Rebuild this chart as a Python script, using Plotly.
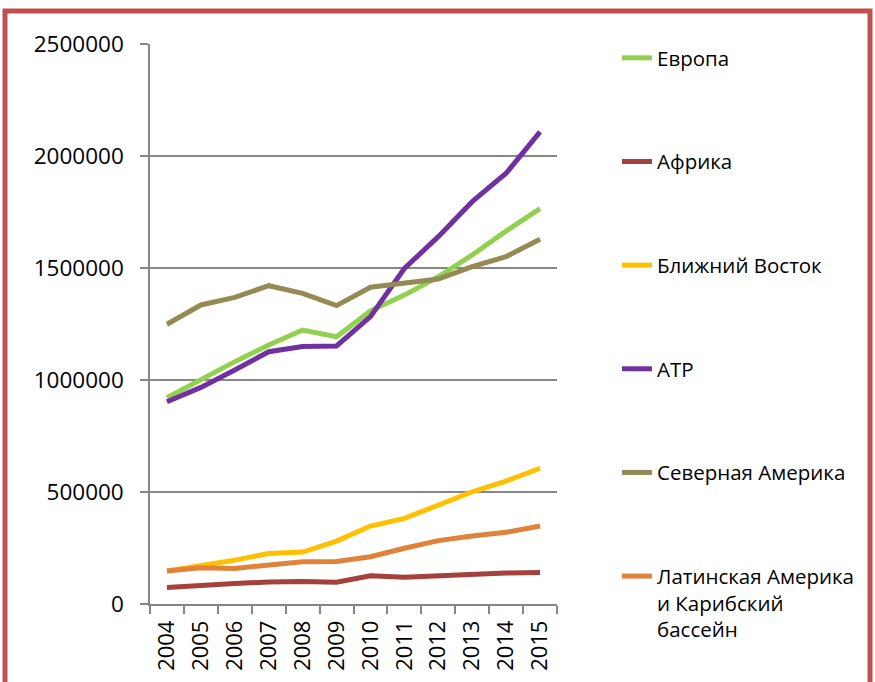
import plotly.graph_objects as go

years = ["2004", "2005", "2006", "2007", "2008", "2009", "2010", "2011", "2012", "2013", "2014", "2015"]

europe = [921000, 1003000, 1082000, 1156000, 1223000, 1193000, 1309000, 1379000, 1461000, 1558000, 1665000, 1765000]
africa = [74000, 85000, 92000, 98000, 101000, 97000, 126000, 119000, 126000, 134000, 138000, 141000]
middle_east = [147000, 171000, 196000, 225000, 232000, 281000, 348000, 382000, 442000, 501000, 549000, 606000]
apac = [903000, 967000, 1045000, 1126000, 1149000, 1152000, 1283000, 1498000, 1640000, 1796000, 1923000, 2108000]
north_america = [1249000, 1335000, 1369000, 1421000, 1387000, 1332000, 1414000, 1434000, 1451000, 1506000, 1551000, 1628000]
latin_america = [147000, 162000, 159000, 174000, 189000, 190000, 211000, 249000, 283000, 304000, 320000, 348000]

series = [
    ("Европа", europe, "#92D050"),
    ("Африка", africa, "#A5403C"),
    ("Ближний Восток", middle_east, "#FFC000"),
    ("АТР", apac, "#7030A0"),
    ("Северная Америка", north_america, "#948A54"),
    ("Латинская Америка<br>и Карибский<br>бассейн", latin_america, "#E0823A"),
]

y_ticks = [0, 500000, 1000000, 1500000, 2000000, 2500000]

fig = go.Figure()
for i, (name, vals, color) in enumerate(series):
    fig.add_trace(go.Scatter(
        x=years, y=vals, name=name, mode="lines",
        line=dict(color=color, width=5),
        legendgroup=f"g{i}",
    ))

W, H = 875, 682
L, R, T, B = 150, 318, 44, 78
pw, ph = W - L - R, H - T - B

def px_x(px):
    return (px - L) / pw

def px_y(py):
    return (H - B - py) / ph

fig.update_layout(
    width=W, height=H,
    margin=dict(l=L, r=R, t=T, b=B, autoexpand=False),
    paper_bgcolor="white", plot_bgcolor="white",
    font=dict(family="Open Sans, sans-serif", color="black"),
    showlegend=True,
    legend=dict(
        x=px_x(617), y=px_y(38), xanchor="left", yanchor="top",
        font=dict(size=20.5, color="black"),
        tracegroupgap=74, valign="top", maxheight=700,
        bgcolor="rgba(0,0,0,0)", borderwidth=0,
    ),
    xaxis=dict(
        type="category", tickson="boundaries", range=[-0.5, len(years) - 0.5],
        showgrid=False, showline=True, linecolor="#868686", linewidth=1.5,
        ticks="outside", ticklen=8, tickcolor="#868686", tickwidth=1.5,
        tickangle=-90, tickfont=dict(size=22, color="black"),
        ticklabelstandoff=6,
    ),
    yaxis=dict(
        range=[0, 2500000], tickvals=y_ticks, ticktext=[str(v) for v in y_ticks],
        showgrid=True, gridcolor="#868686", gridwidth=1.5,
        showline=True, linecolor="#868686", linewidth=1.5,
        ticks="outside", ticklen=8, tickcolor="#868686", tickwidth=1.5,
        tickfont=dict(size=22.5, color="black"),
        ticklabelstandoff=12, zeroline=False,
    ),
    shapes=[dict(
        type="rect", xref="paper", yref="paper",
        x0=px_x(5), x1=px_x(870), y0=px_y(700), y1=px_y(11),
        line=dict(color="#C0504D", width=5), fillcolor="rgba(0,0,0,0)",
        layer="below",
    )],
)

fig.write_html("out.html", config={"displayModeBar": False},
               post_script="document.body.style.margin='0px';")
